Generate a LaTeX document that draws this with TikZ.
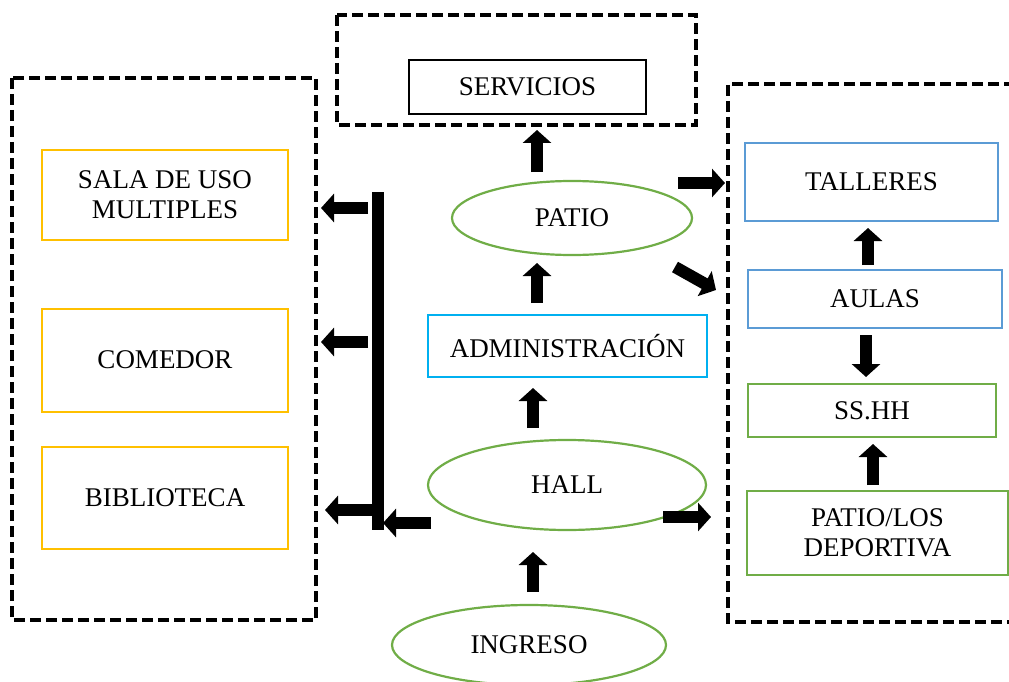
\documentclass[tikz,border=0pt]{standalone}
\usepackage{fontspec}
\setmainfont{Liberation Serif}
\usetikzlibrary{arrows.meta,shapes.geometric}
\definecolor{cyel}{HTML}{FFC000}
\definecolor{cblue}{HTML}{00B0F0}
\definecolor{cblue2}{HTML}{5B9BD5}
\definecolor{cgreen}{HTML}{70AD47}
\tikzset{
  txt/.style={font=\fontsize{27}{30}\selectfont, align=center, inner sep=0pt},
  box/.style={txt, draw, rectangle, line width=2pt},
  ell/.style={txt, draw=cgreen, ellipse, line width=2.2pt},
  dbox/.style={draw, line width=3.5pt, dash pattern=on 11pt off 5pt},
  blk/.style={line width=12pt, -{Triangle[width=28pt,length=13pt]}},
}
\begin{document}
\begin{tikzpicture}[x=1pt,y=-1pt]
\useasboundingbox (0,0) rectangle (1009,682);
\clip (0,0) rectangle (1009,682);
% dashed groups
\draw[dbox] (12,78) rectangle (316,620);
\draw[dbox] (337,15) rectangle (696,125);
\draw[dbox] (1015,84) -| (728,622) -- (1015,622);
% nodes
\node[box, draw=black, minimum width=237pt, minimum height=54pt] (serv) at (527.5,87) {SERVICIOS};
\node[box, draw=cyel, minimum width=246pt, minimum height=90pt] (sala) at (165,195) {SALA DE USO\\MULTIPLES};
\node[box, draw=cyel, minimum width=246pt, minimum height=103pt] (comedor) at (165,360) {COMEDOR};
\node[box, draw=cyel, minimum width=246pt, minimum height=102pt] (biblio) at (165,498) {BIBLIOTECA};
\node[box, draw=cblue2, minimum width=253pt, minimum height=78pt] (talleres) at (871.5,182) {TALLERES};
\node[box, draw=cblue2, minimum width=254pt, minimum height=58pt] (aulas) at (875,299) {AULAS};
\node[box, draw=cgreen, minimum width=248pt, minimum height=53pt] (sshh) at (872,410.5) {SS.HH};
\node[box, draw=cgreen, minimum width=261pt, minimum height=84pt] (patiolos) at (877.5,533) {PATIO/LOS\\DEPORTIVA};
\node[box, draw=cblue, minimum width=279pt, minimum height=62pt] (admin) at (567.5,346) {ADMINISTRACIÓN};
\node[ell, minimum width=240pt, minimum height=74pt] (patio) at (572,218) {PATIO};
\node[ell, minimum width=278pt, minimum height=90pt] (hall) at (567,485) {HALL};
\node[ell, minimum width=274pt, minimum height=80pt] (ingreso) at (529,645) {INGRESO};
% connector coordinates
\coordinate (barTop) at (378,192);
\coordinate (barBot) at (378,530);
\coordinate (p1a) at (537,172); \coordinate (p1b) at (537,130);
\coordinate (p2a) at (537,303); \coordinate (p2b) at (537,263);
\coordinate (p3a) at (533,428); \coordinate (p3b) at (533,388);
\coordinate (p4a) at (533,592); \coordinate (p4b) at (533,552);
\coordinate (l1a) at (368,208); \coordinate (l1b) at (321,208);
\coordinate (l2a) at (368,342); \coordinate (l2b) at (321,342);
\coordinate (l3a) at (372,510); \coordinate (l3b) at (325,510);
\coordinate (h1a) at (431,523); \coordinate (h1b) at (383,523);
\coordinate (r1a) at (678,183); \coordinate (r1b) at (725,183);
\coordinate (r2a) at (675,267); \coordinate (r2b) at (716,290);
\coordinate (r3a) at (663,517); \coordinate (r3b) at (711,517);
\coordinate (v1a) at (868,265); \coordinate (v1b) at (868,228);
\coordinate (v2a) at (866,335); \coordinate (v2b) at (866,377);
\coordinate (v3a) at (873,485); \coordinate (v3b) at (873,444);
% connectors
\draw[line width=12pt] (barTop) -- (barBot);
\draw[blk] (p1a) -- (p1b);
\draw[blk] (p2a) -- (p2b);
\draw[blk] (p3a) -- (p3b);
\draw[blk] (p4a) -- (p4b);
\draw[blk] (l1a) -- (l1b);
\draw[blk] (l2a) -- (l2b);
\draw[blk] (l3a) -- (l3b);
\draw[blk] (h1a) -- (h1b);
\draw[blk] (r1a) -- (r1b);
\draw[blk] (r2a) -- (r2b);
\draw[blk] (r3a) -- (r3b);
\draw[blk] (v1a) -- (v1b);
\draw[blk] (v2a) -- (v2b);
\draw[blk] (v3a) -- (v3b);
\end{tikzpicture}
\end{document}
